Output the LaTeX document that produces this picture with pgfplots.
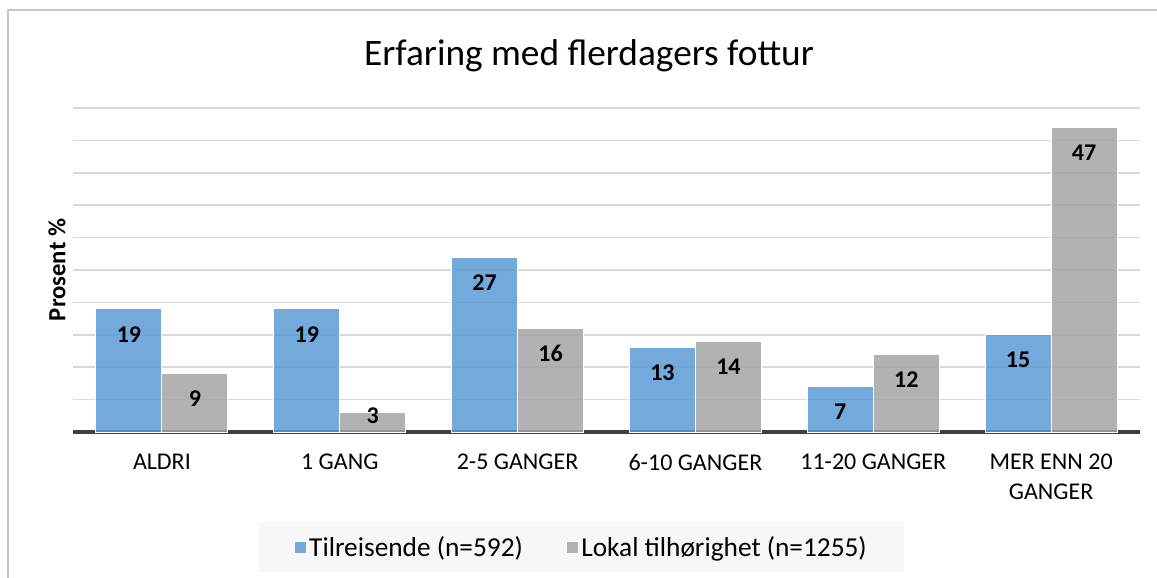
\documentclass[border=0pt]{standalone}
\usepackage{fontspec}
\setmainfont{Carlito}
\usepackage{pgfplots}
\pgfplotsset{compat=1.18}
\definecolor{tilblue}{RGB}{91,155,213}
\definecolor{lokgray}{RGB}{165,165,165}
\definecolor{gridgray}{RGB}{217,217,217}
\definecolor{basegray}{RGB}{64,64,64}
\definecolor{framegray}{RGB}{200,200,200}
\definecolor{legbg}{RGB}{247,247,247}

\begin{document}
\begin{tikzpicture}
% 1px = 0.75pt, y grows downward from the top edge
\path[use as bounding box] (0,0) rectangle (867.75pt,-433.5pt);
\draw[framegray,line width=1.6pt] (6pt,-433.5pt) -- (6pt,-7.5pt) -- (867.75pt,-7.5pt);
\node[font=\fontsize{28}{32}\selectfont] at (441.75pt,-42pt) {Erfaring med flerdagers fottur};
\node[font=\fontsize{18.5}{22}\selectfont\bfseries,rotate=90] at (42.75pt,-202.5pt) {Prosent \%};
\begin{axis}[
  at={(54.75pt,-324pt)},anchor=south west,
  scale only axis,width=800.25pt,height=243pt,
  ybar=0pt,bar width=49.5pt,
  ymin=0,ymax=50,ytick={5,10,...,50},yticklabels={},
  xmin=-0.5,xmax=5.5,xtick={0,...,5},
  xticklabels={ALDRI,1 GANG,2-5 GANGER,6-10 GANGER,11-20 GANGER,{MER ENN 20\\GANGER}},
  xticklabel style={font=\fontsize{18}{22.5}\selectfont,align=center,yshift=-11pt},
  axis x line=bottom,axis y line=left,
  x axis line style={line width=3pt,draw=basegray,-},
  y axis line style={draw=none},
  tick style={draw=none},
  ymajorgrids,grid style={gridgray,line width=1.2pt},
  visualization depends on={rawy \as \rawy},
  nodes near coords={\pgfmathprintnumber[assume math mode=true]{\pgfplotspointmeta}},
  every node near coord/.append style={font=\fontsize{18}{20}\selectfont\bfseries,anchor=center,
    yshift={ifthenelse(\rawy<5,-2,-19)*1pt},text opacity=1,fill opacity=1},
  legend columns=2,
  legend style={at={(0.4766,-0.355)},anchor=center,fill=legbg,draw=none,
    font=\fontsize{20.5}{23}\selectfont,inner xsep=26pt,inner ysep=8.5pt,
    /tikz/every even column/.append style={column sep=30pt}},
  legend image code/.code={\fill[#1] (0pt,-4.5pt) rectangle (9pt,4.5pt);},
]
\addplot[fill=tilblue,fill opacity=0.85,draw=white,line width=0.75pt] coordinates {(0,19)(1,19)(2,27)(3,13)(4,7)(5,15)};
\addplot[fill=lokgray,fill opacity=0.85,draw=white,line width=0.75pt] coordinates {(0,9)(1,3)(2,16)(3,14)(4,12)(5,47)};
\legend{Tilreisende (n=592),Lokal tilhørighet (n=1255)}
\end{axis}
\end{tikzpicture}
\end{document}
